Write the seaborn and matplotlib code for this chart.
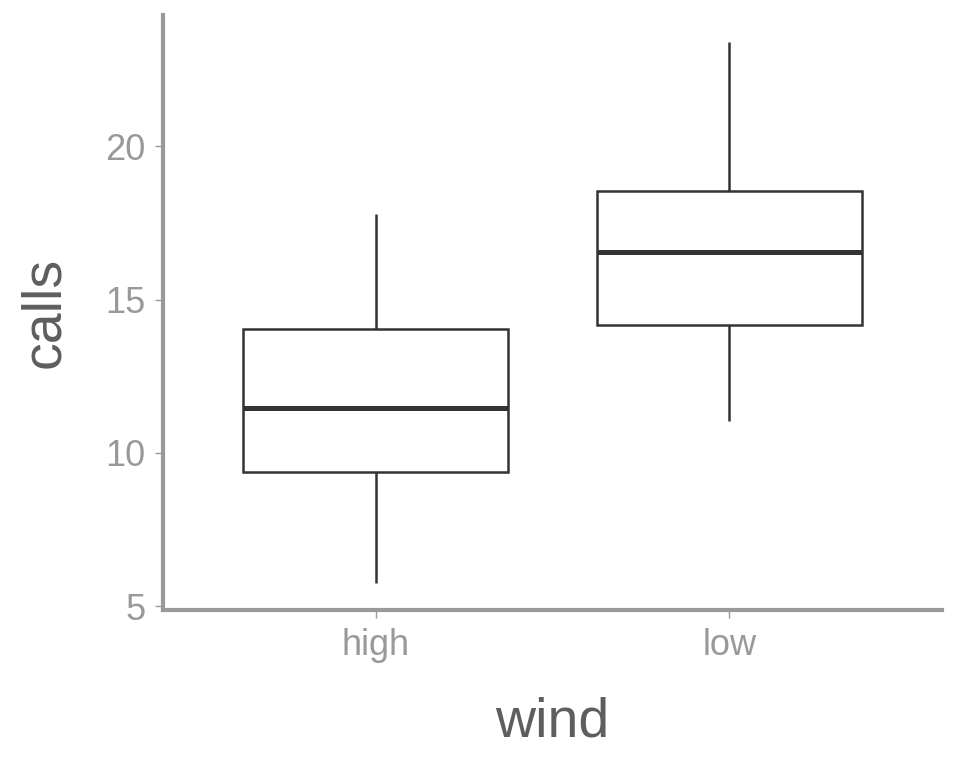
import pandas as pd
import matplotlib
matplotlib.use("Agg")
import matplotlib.pyplot as plt
import seaborn as sns

# five-number summaries
wind_levels = ["high", "low"]
high_calls = [5.75, 9.38, 11.47, 14.05, 17.78]
low_calls = [11.05, 14.18, 16.54, 18.56, 23.4]

data = pd.DataFrame({
    "wind": ["high"] * len(high_calls) + ["low"] * len(low_calls),
    "calls": high_calls + low_calls,
})

sns.set_style("white")
plt.rcParams['font.family'] = ['Liberation Sans', 'DejaVu Sans']

fig = plt.figure(figsize=(9.6, 7.68), dpi=100)
ax = fig.add_axes([0.17, 0.2057, 0.811, 0.7743])

sns.boxplot(x="wind", y="calls", data=data, order=wind_levels, ax=ax,
            width=0.75, color="white", linecolor="#333333", linewidth=1.8,
            showcaps=False, showfliers=False, whis=1.5,
            medianprops={"linewidth": 3.6, "color": "#333333"})

ax.set_xlim(-0.6, 1.6)
ax.set_ylim(4.87, 24.28)
ax.set_yticks([5, 10, 15, 20])

for side in ["top", "right"]:
    ax.spines[side].set_visible(False)
for side in ["left", "bottom"]:
    ax.spines[side].set_color("#999999")
    ax.spines[side].set_linewidth(3)

ax.tick_params(axis="both", which="both", length=6, width=1, color="#999999",
               labelcolor="#999999", labelsize=26, pad=7, left=True, bottom=True)
ax.set_xlabel("wind", fontsize=40, color="#5e5e5e", labelpad=24)
ax.set_ylabel("calls", fontsize=40, color="#5e5e5e", labelpad=24)

fig.savefig("out.png", dpi=100)
